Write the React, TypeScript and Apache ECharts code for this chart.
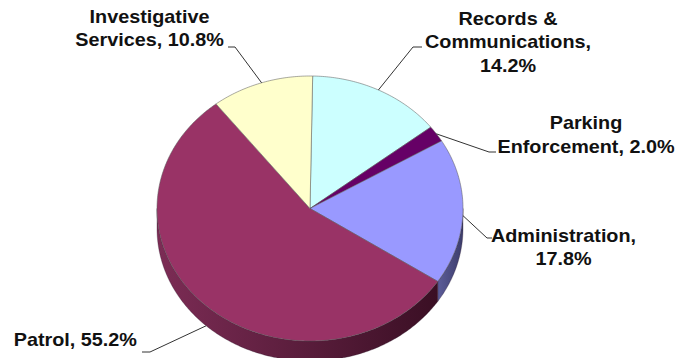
import React, { useEffect, useRef } from "react";
import * as echarts from "echarts";

// ---- data ----
const categories = [
  "Records & Communications",
  "Parking Enforcement",
  "Administration",
  "Patrol",
  "Investigative Services",
];
const shares = [14.2, 2.0, 17.8, 55.2, 10.8];
// label text lines (name part) and whether the percentage goes on its own line
const labelNameLines = [
  ["Records &", "Communications"],
  ["Parking", "Enforcement"],
  ["Administration"],
  ["Patrol"],
  ["Investigative", "Services"],
];
const pctOnOwnLine = [true, false, true, false, false];

// ---- styles ----
const topColors = ["#CCFFFF", "#660066", "#9999FF", "#993366", "#FFFFCC"];
const sideColors = [
  ["#9fcfcf", "#7fa8a8"],
  ["#4a004a", "#330033"],
  ["#5c5c99", "#3c3c6a"],
  ["#7c2c55", "#3a0f24"],
  ["#cfcf9f", "#a8a87f"],
];

// ---- geometry / layout ----
const CX = 310;
const CY = 208.5;
const RX = 153;
const RY = 132.5;
const DEPTH = 20;
const START = 1; // degrees, clockwise from 12 o'clock

const labelLayout = [
  { x: 508, ys: [18.5, 42, 65.5], elbow: [413, 47], end: [422, 47], dy: 0 },
  { x: 586, ys: [123, 146.7], elbow: [489, 152], end: [496, 152], dy: 0 },
  { x: 563.5, ys: [235.7, 259], elbow: [487, 238], end: [492, 238], dy: 4 },
  { x: 75.3, ys: [340], elbow: [150, 352], end: [142, 352], dy: DEPTH },
  { x: 149.5, ys: [17.2, 40], elbow: [235, 47], end: [228, 47], dy: 0 },
];

function pt(deg: number, dy = 0): number[] {
  const r = (deg * Math.PI) / 180;
  return [CX + RX * Math.sin(r), CY - RY * Math.cos(r) + dy];
}

function arc(a: number, b: number, dy = 0): number[][] {
  const pts: number[][] = [];
  const n = Math.max(2, Math.ceil(Math.abs(b - a) / 0.75));
  for (let i = 0; i <= n; i++) pts.push(pt(a + ((b - a) * i) / n, dy));
  return pts;
}

function labelLines(i: number): string[] {
  const pct = shares[i].toFixed(1) + "%";
  const names = labelNameLines[i].slice();
  const last = names.length - 1;
  if (pctOnOwnLine[i]) {
    names[last] = names[last] + ",";
    names.push(pct);
  } else {
    names[last] = names[last] + ", " + pct;
  }
  return names;
}

export default function App() {
  const ref = useRef<HTMLDivElement>(null);

  useEffect(() => {
    if (!ref.current) return;
    const chart = echarts.init(ref.current, undefined, { renderer: "svg" });
    const total = shares.reduce((s, v) => s + v, 0);

    const renderItem = (params: any, api: any) => {
      const i = params.dataIndex;
      const v = api.value(0);
      let before = 0;
      for (let k = 0; k < i; k++) before += shares[k];
      const a = START + (before / total) * 360;
      const b = a + (v / total) * 360;
      const children: any[] = [];

      // side (visible front half: 90..270 deg)
      const sa = Math.max(a, 90);
      const sb = Math.min(b, 270);
      if (sb > sa) {
        const top = arc(sa, sb, 0);
        const bot = arc(sb, sa, DEPTH);
        children.push({
          type: "polygon",
          z2: 1,
          shape: { points: top.concat(bot) },
          style: {
            fill: new echarts.graphic.LinearGradient(0, 0, 1, 0, [
              { offset: 0, color: sideColors[i][0] },
              { offset: 1, color: sideColors[i][1] },
            ]),
            stroke: "rgba(40,20,40,0.5)",
            lineWidth: 0.6,
          },
        });
      }

      // top face
      children.push({
        type: "polygon",
        z2: 5,
        shape: { points: [[CX, CY]].concat(arc(a, b, 0)) },
        style: {
          fill: topColors[i],
          stroke: "rgba(90,90,90,0.75)",
          lineWidth: 0.7,
        },
      });

      // leader line
      const L = labelLayout[i];
      const mid = (a + b) / 2;
      const p0 = pt(mid, L.dy);
      children.push({
        type: "polyline",
        z2: 8,
        shape: { points: [p0, L.elbow, L.end] },
        style: { stroke: "#333333", lineWidth: 1, fill: null },
      });

      // label text
      const lines = labelLines(i);
      lines.forEach((t, j) => {
        children.push({
          type: "text",
          z2: 10,
          x: L.x,
          y: L.ys[j],
          scaleX: 1.1,
          style: {
            text: t,
            x: 0,
            y: 0,
            fill: "#111111",
            fontSize: 18,
            fontWeight: "bold",
            fontFamily: '"Liberation Sans", Arial, sans-serif',
            align: "center",
            verticalAlign: "middle",
          },
        });
      });

      return { type: "group", children };
    };

    chart.setOption({
      animation: false,
      backgroundColor: "#ffffff",
      series: [
        {
          type: "custom",
          coordinateSystem: "none",
          data: shares.map((v, i) => ({ name: categories[i], value: [v] })),
          renderItem,
        },
      ],
    });

    return () => chart.dispose();
  }, []);

  return (
    <div
      ref={ref}
      style={{ position: "fixed", left: 0, top: 0, width: 689, height: 358 }}
    />
  );
}
